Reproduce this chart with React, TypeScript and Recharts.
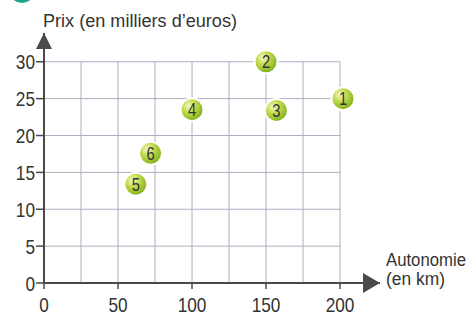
import React from 'react';
import { ScatterChart, Scatter, XAxis, YAxis, ReferenceLine, ReferenceDot } from 'recharts';

const ids = ['1', '2', '3', '4', '5', '6'];
const autonomie = [202, 150, 157, 100, 62, 72];
const prix = [25, 30, 23.4, 23.5, 13.4, 17.6];
const xTicks = [0, 50, 100, 150, 200];
const yTicks = [0, 5, 10, 15, 20, 25, 30];
const xGrid = [25, 50, 75, 100, 125, 150, 175, 200];
const yGrid = [5, 10, 15, 20, 25, 30];

const data = ids.map((id, i) => ({ id, x: autonomie[i], y: prix[i] }));

const FONT = '"Liberation Sans", Arial, sans-serif';
const NARROW = 0.82;
const TEXT = '#333333';
const AXIS = '#4a4a4a';
const GRID = '#adb0c2';

const NarrowText = ({ x, y, anchor, size, children }: any) => (
  <g transform={`translate(${x},${y})`}>
    <text transform={`scale(${NARROW},1)`} x={0} y={0} textAnchor={anchor} fontSize={size} fontFamily={FONT} fill={TEXT}>
      {children}
    </text>
  </g>
);

const XTick = (props: any) => {
  const { x, y, payload } = props;
  return <NarrowText x={x} y={y + 15} anchor="middle" size={21}>{payload.value}</NarrowText>;
};

const YTick = (props: any) => {
  const { x, y, payload } = props;
  return <NarrowText x={x} y={y + 7.5} anchor="end" size={21}>{payload.value}</NarrowText>;
};

const Ball = (props: any) => {
  const { cx, cy, payload } = props;
  if (cx == null || cy == null) return null;
  return (
    <g>
      <circle cx={cx} cy={cy} r={12.5} fill="#ffffff" />
      <circle cx={cx} cy={cy} r={10.5} fill="url(#ballGrad)" />
      <NarrowText x={cx} y={cy + 6.5} anchor="middle" size={18}>{payload.id}</NarrowText>
    </g>
  );
};

const UpArrow = (props: any) => {
  const { cx, cy } = props;
  if (cx == null || cy == null) return null;
  return <path d={`M${cx},${cy} L${cx - 8},${cy + 16} L${cx + 8},${cy + 16} Z`} fill={AXIS} />;
};

const RightArrow = (props: any) => {
  const { cx, cy } = props;
  if (cx == null || cy == null) return null;
  return <path d={`M${cx},${cy} L${cx - 17},${cy - 10} L${cx - 17},${cy + 10} Z`} fill={AXIS} />;
};

export default function App() {
  return (
    <div style={{ position: 'absolute', left: 0, top: 0, width: 471, height: 316, background: '#fff', overflow: 'hidden' }}>
      <svg width={471} height={316} style={{ position: 'absolute', left: 0, top: 0 }}>
        <circle cx={22} cy={-10} r={13} fill="#1fa58f" />
        <text x={43} y={27} fontSize={18} fontFamily={FONT} fill={TEXT} textLength={194} lengthAdjust="spacingAndGlyphs">Prix (en milliers d’euros)</text>
        <text x={386} y={266} fontSize={18} fontFamily={FONT} fill={TEXT} textLength={80} lengthAdjust="spacingAndGlyphs">Autonomie</text>
        <text x={386} y={285} fontSize={18} fontFamily={FONT} fill={TEXT} textLength={59} lengthAdjust="spacingAndGlyphs">(en km)</text>
      </svg>
      <div style={{ position: 'absolute', left: 0, top: 0 }}>
        <ScatterChart width={471} height={316} margin={{ top: 33, right: 91, bottom: 0, left: 0 }}>
          <defs>
            <radialGradient id="ballGrad" cx="35%" cy="32%" r="70%">
              <stop offset="0%" stopColor="#f4f8c8" />
              <stop offset="45%" stopColor="#c2dc4e" />
              <stop offset="100%" stopColor="#86b320" />
            </radialGradient>
          </defs>
          <XAxis
            type="number"
            dataKey="x"
            domain={[0, 227]}
            ticks={xTicks}
            allowDataOverflow
            height={33}
            tickSize={6}
            tickMargin={8}
            axisLine={{ stroke: AXIS, strokeWidth: 2 }}
            tickLine={{ stroke: AXIS, strokeWidth: 1.5 }}
            tick={<XTick />}
          />
          <YAxis
            type="number"
            dataKey="y"
            domain={[0, 33.9]}
            ticks={yTicks}
            allowDataOverflow
            width={44}
            tickSize={8}
            tickMargin={1}
            axisLine={{ stroke: AXIS, strokeWidth: 2 }}
            tickLine={{ stroke: AXIS, strokeWidth: 1.5 }}
            tick={<YTick />}
          />
          {xGrid.map((v) => (
            <ReferenceLine
              key={'gx' + v}
              segment={[{ x: v, y: 0 }, { x: v, y: 30 }]}
              stroke={GRID}
              strokeWidth={1}
            />
          ))}
          {yGrid.map((v) => (
            <ReferenceLine
              key={'gy' + v}
              segment={[{ x: 0, y: v }, { x: 200, y: v }]}
              stroke={GRID}
              strokeWidth={1}
            />
          ))}
          <ReferenceDot x={0} y={33.9} r={0} shape={<UpArrow />} ifOverflow="visible" />
          <ReferenceDot x={227} y={0} r={0} shape={<RightArrow />} ifOverflow="visible" />
          <Scatter data={data} isAnimationActive={false} shape={<Ball />} />
        </ScatterChart>
      </div>
    </div>
  );
}
